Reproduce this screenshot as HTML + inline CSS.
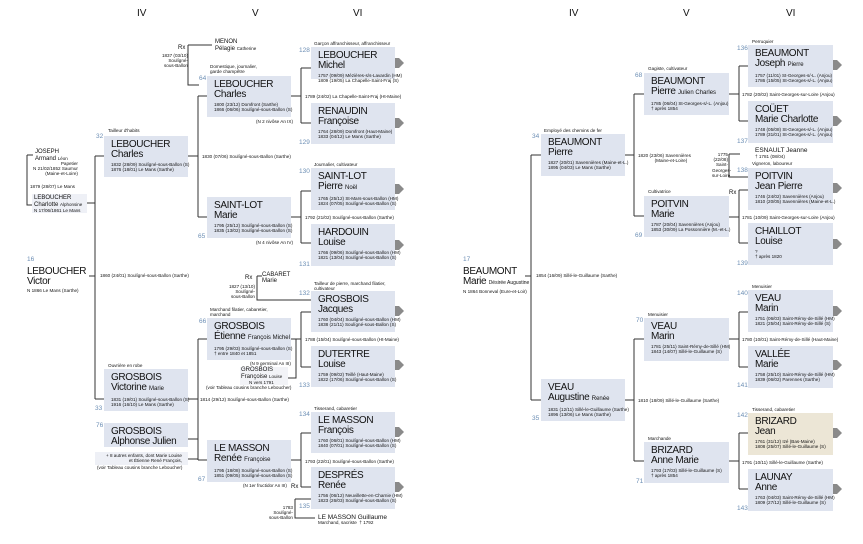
<!DOCTYPE html>
<html><head><meta charset="utf-8">
<style>
body{margin:0;width:863px;height:544px;background:#fff;position:relative;overflow:hidden;font-family:"Liberation Sans",sans-serif;color:#111}
.b{position:absolute;background:#dfe4ef;padding:4px 0 0 7px;box-sizing:border-box}
.n{font-size:10px;line-height:9.5px;white-space:nowrap;letter-spacing:-0.35px}
.n small{font-size:6px;letter-spacing:0}
.d{font-size:4.6px;line-height:5.2px;margin-top:3px;white-space:nowrap}
.t{position:absolute;font-size:4.6px;line-height:5.2px;white-space:nowrap}
.num{position:absolute;font-size:6.5px;color:#6d8fb5}
.h{position:absolute;font-size:10px;top:8px}
.s{position:absolute;font-size:10px;line-height:10px;white-space:nowrap;letter-spacing:-0.35px}
svg{position:absolute;left:0;top:0}
</style></head><body>
<svg width="863" height="544" fill="none" stroke="#333" stroke-width="1">
<path d="M27 155V205H33M27 155H33M86 203H95M89 276H95M95 156V399M95 156H104M95 399H104M188 156H198M198 96V217M198 96H207M198 217H207M188 399H198M198 339V460M198 339H207M198 460H207M188 439H198M188 459H198M291 96H301M301 68V123M301 68H311M301 123H311M291 217H301M301 191V243M301 191H311M301 243H311M291 339H301M301 312V367M301 312H311M301 367H311M288 378H296V339M291 460H301M301 433V487M301 433H311M301 487H311M188 45V85H199M188 45H212M257 276V300H311M257 276H262M295 499V518H315M295 499H311"/>
<path d="M531 155V400M531 155H541M531 400H541M525 276H531M625 155H634M634 94V216M634 94H644M634 216H644M625 400H634M634 339V461M634 339H644M634 461H644M729 94H739M739 66V121M739 66H748M739 121H748M729 217H739M739 190V243M739 190H748M739 243H748M729 154V177H748M729 154H740M729 339H739M739 312V367M739 312H748M739 367H748M729 461H739M739 433V489M739 433H748M739 489H748"/>
<g fill="#8a8a8a" stroke="none">
<polygon points="395,58 399,58 404,63 399,68 395,68"/><polygon points="395,118 399,118 404,123 399,128 395,128"/><polygon points="395,184 399,184 404,189 399,194 395,194"/><polygon points="395,240 399,240 404,245 399,250 395,250"/><polygon points="395,306 399,306 404,311 399,316 395,316"/><polygon points="395,360 399,360 404,365 399,370 395,370"/><polygon points="395,427 399,427 404,432 399,437 395,437"/><polygon points="395,482 399,482 404,487 399,492 395,492"/>
<polygon points="833,60 837,60 842,65 837,70 833,70"/><polygon points="833,116 837,116 842,121 837,126 833,126"/><polygon points="833,183 837,183 842,188 837,193 833,193"/><polygon points="833,239 837,239 842,244 837,249 833,249"/><polygon points="833,306 837,306 842,311 837,316 833,316"/><polygon points="833,360 837,360 842,365 837,370 833,370"/><polygon points="833,428 837,428 842,433 837,438 833,438"/><polygon points="833,484 837,484 842,489 837,494 833,494"/>
</g></svg>

<div class="h" style="left:137px">IV</div><div class="h" style="left:252px">V</div><div class="h" style="left:353px">VI</div>
<div class="h" style="left:569px">IV</div><div class="h" style="left:683px">V</div><div class="h" style="left:786px">VI</div>

<!-- LEFT -->
<div class="s" style="left:35px;top:150px;font-size:6px;line-height:5.5px;letter-spacing:0">JOSEPH<br>Armand <span style="font-size:4.5px">Léon</span></div>
<div class="t" style="left:33px;top:161px;text-align:right">Papetier<br>N 21/02/1852 Saumur<br>(Maine-et-Loire)</div>
<div class="t" style="left:30px;top:184px">1879 (28/07) Le Mans</div>
<div class="b" style="left:32px;top:194px;width:55px;height:19px;padding:2px 0 0 2px;background:#eef0f6"><div style="font-size:6px;line-height:5.5px;white-space:nowrap">LEBOUCHER<br>Charlotte <span style="font-size:4.5px">Alphonsine</span></div><div class="t" style="position:static">N 17/06/1861 Le Mans</div></div>
<div class="num" style="left:27px;top:256px">16</div>
<div class="s" style="left:27px;top:267px">LEBOUCHER<br>Victor</div>
<div class="t" style="left:27px;top:288px">N 1866 Le Mans (Sarthe)</div>
<div class="t" style="left:100px;top:273px">1860 (24/01) Soulígné-sous-Ballon (Sarthe)</div>

<div class="t" style="left:108px;top:128px">Tailleur d'habits</div><div class="num" style="left:96px;top:133px">32</div>
<div class="b" style="left:104px;top:136px;width:84px;height:41px"><div class="n">LEBOUCHER<br>Charles</div><div class="d">1832 (28/09) Soulígné-sous-Ballon (S)<br>1876 (18/01) Le Mans (Sarthe)</div></div>
<div class="t" style="left:202px;top:154px">1830 (07/06) Soulígné-sous-Ballon (Sarthe)</div>

<div class="t" style="left:108px;top:363px">Ouvrière en robe</div>
<div class="b" style="left:104px;top:369px;width:84px;height:42px"><div class="n">GROSBOIS<br>Victorine <small>Marie</small></div><div class="d">1831 (19/01) Soulígné-sous-Ballon (S)<br>1916 (16/10) Le Mans (Sarthe)</div></div><div class="num" style="left:95px;top:405px">33</div>
<div class="num" style="left:96px;top:422px">76</div>
<div class="b" style="left:104px;top:423px;width:84px;height:24px"><div class="n">GROSBOIS<br>Alphonse Julien</div></div>
<div class="b" style="left:95px;top:452px;width:93px;height:13px;padding:1px 0 0 2px;background:#eef0f6"><div class="t" style="position:static;text-align:right;width:85px">+ 8 autres enfants, dont Marie Louise<br>et Étienne René François,</div></div>
<div class="t" style="left:97px;top:465px">(voir Tableau cousins branche Leboucher)</div>
<div class="t" style="left:200px;top:397px">1814 (29/12) Soulígné-sous-Ballon (Sarthe)</div>

<div class="s" style="left:178px;top:43px;font-size:6px;letter-spacing:0">Rx</div>
<div class="t" style="left:160px;top:53px;text-align:right;width:28px">1837 (03/10)<br>Soulígné-<br>sous-Ballon</div>
<div class="s" style="left:215px;top:40px;font-size:6px;line-height:5.5px;letter-spacing:0">MENON<br>Pélagie <span style="font-size:4.5px">Catherine</span></div>
<div class="t" style="left:210px;top:64px">Domestique, journalier,<br>garde champêtre</div><div class="num" style="left:199px;top:75px">64</div>
<div class="b" style="left:207px;top:76px;width:84px;height:41px"><div class="n">LEBOUCHER<br>Charles</div><div class="d">1800 (23/12) Domfront (Sarthe)<br>1866 (06/06) Soulígné-sous-Ballon (S)</div></div>
<div class="t" style="left:256px;top:119px">(N 2 nivôse An IX)</div>
<div class="b" style="left:207px;top:197px;width:84px;height:41px"><div class="n">SAINT-LOT<br>Marie</div><div class="d">1795 (25/12) Soulígné-sous-Ballon (S)<br>1835 (13/02) Soulígné-sous-Ballon (S)</div></div><div class="num" style="left:198px;top:233px">65</div>
<div class="t" style="left:256px;top:240px">(N 4 nivôse An IV)</div>

<div class="s" style="left:245px;top:273px;font-size:6px;letter-spacing:0">Rx</div>
<div class="s" style="left:262px;top:273px;font-size:6px;line-height:5.5px;letter-spacing:0">CABARET<br>Marie</div>
<div class="t" style="left:228px;top:284px;text-align:right;width:27px">1827 (13/10)<br>Soulígné-<br>sous-Ballon</div>
<div class="t" style="left:210px;top:307px">Marchand filatier, cabaretier,<br>marchand</div><div class="num" style="left:199px;top:318px">66</div>
<div class="b" style="left:207px;top:318px;width:84px;height:42px"><div class="n">GROSBOIS<br>Étienne <small>François Michel</small></div><div class="d">1795 (29/03) Soulígné-sous-Ballon (S)<br>† entre 1840 et 1851</div></div>
<div class="t" style="left:250px;top:361px">(N 9 germinal An III)</div>
<div class="b" style="left:240px;top:367px;width:48px;height:18px;padding:1px 0 0 1px;background:#f2f3f7"><div style="font-size:6px;line-height:5.5px;white-space:nowrap">GROSBOIS<br>Françoise <span style="font-size:4.5px">Louise</span></div><div class="t" style="position:static;padding-left:8px">N vers 1791</div></div>
<div class="t" style="left:206px;top:385px">(voir Tableau cousins branche Leboucher)</div>
<div class="b" style="left:207px;top:440px;width:84px;height:42px"><div class="n">LE MASSON<br>Renée <small>Françoise</small></div><div class="d">1795 (18/08) Soulígné-sous-Ballon (S)<br>1851 (09/05) Soulígné-sous-Ballon (S)</div></div><div class="num" style="left:198px;top:476px">67</div>
<div class="t" style="left:243px;top:483px">(N 1er fructidor An III)</div>
<div class="s" style="left:291px;top:482px;font-size:6px;letter-spacing:0">Rx</div>

<div class="t" style="left:314px;top:41px">Garçon affranchisseur, affranchisseur</div><div class="num" style="left:299px;top:47px">128</div>
<div class="b" style="left:311px;top:47px;width:84px;height:32px"><div class="n">LEBOUCHER<br>Michel</div><div class="d">1757 (09/09) Mézières-s/s-Lavardin (HM)<br>1809 (19/05) La Chapelle-Saint-Fraj (S)</div></div>
<div class="t" style="left:305px;top:94px">1789 (24/02) La Chapelle-Saint-Fraj (Ht-Maine)</div>
<div class="b" style="left:311px;top:103px;width:84px;height:41px"><div class="n">RENAUDIN<br>Françoise</div><div class="d">1764 (28/09) Domfront (Haut-Maine)<br>1833 (04/12) Le Mans (Sarthe)</div></div><div class="num" style="left:299px;top:139px">129</div>
<div class="t" style="left:314px;top:162px">Journalier, cultivateur</div><div class="num" style="left:299px;top:168px">130</div>
<div class="b" style="left:311px;top:168px;width:84px;height:42px"><div class="n">SAINT-LOT<br>Pierre <small>Noël</small></div><div class="d">1765 (25/12) St-Mars-sous-Ballon (HM)<br>1824 (07/05) Soulígné-sous-Ballon (S)</div></div>
<div class="t" style="left:305px;top:215px">1792 (21/02) Soulígné-sous-Ballon (Sarthe)</div>
<div class="b" style="left:311px;top:224px;width:84px;height:42px"><div class="n">HARDOUIN<br>Louise</div><div class="d">1766 (09/06) Soulígné-sous-Ballon (HM)<br>1821 (13/04) Soulígné-sous-Ballon (S)</div></div><div class="num" style="left:299px;top:261px">131</div>
<div class="t" style="left:314px;top:281px">Tailleur de pierre, marchand filatier,<br>cultivateur</div><div class="num" style="left:299px;top:290px">132</div>
<div class="b" style="left:311px;top:291px;width:84px;height:41px"><div class="n">GROSBOIS<br>Jacques</div><div class="d">1760 (04/04) Soulígné-sous-Ballon (HM)<br>1838 (21/11) Soulígné-sous-Ballon (S)</div></div>
<div class="t" style="left:305px;top:337px">1788 (15/04) Soulígné-sous-Ballon (Ht-Maine)</div>
<div class="b" style="left:311px;top:346px;width:84px;height:41px"><div class="n">DUTERTRE<br>Louise</div><div class="d">1759 (09/02) Teillé (Haut-Maine)<br>1822 (17/06) Soulígné-sous-Ballon (S)</div></div><div class="num" style="left:299px;top:382px">133</div>
<div class="t" style="left:314px;top:406px">Tisserand, cabaretier</div><div class="num" style="left:299px;top:411px">134</div>
<div class="b" style="left:311px;top:412px;width:84px;height:41px"><div class="n">LE MASSON<br>François</div><div class="d">1760 (06/01) Soulígné-sous-Ballon (HM)<br>1840 (07/01) Soulígné-sous-Ballon (S)</div></div>
<div class="t" style="left:305px;top:459px">1793 (22/01) Soulígné-sous-Ballon (Sarthe)</div>
<div class="b" style="left:311px;top:467px;width:84px;height:42px"><div class="n">DESPRÉS<br>Renée</div><div class="d">1756 (06/12) Neuvillette-en-Charnie (HM)<br>1823 (26/03) Soulígné-sous-Ballon (S)</div></div><div class="num" style="left:299px;top:503px">135</div>
<div class="t" style="left:268px;top:505px;text-align:right;width:25px">1783<br>Soulígné-<br>sous-Ballon</div>
<div class="s" style="left:318px;top:513px;font-size:6.5px;letter-spacing:0">LE MASSON Guillaume</div>
<div class="t" style="left:318px;top:520px">Marchand, sacriste &nbsp;† 1792</div>

<!-- RIGHT -->
<div class="num" style="left:463px;top:256px">17</div>
<div class="s" style="left:463px;top:267px">BEAUMONT<br>Marie <span style="font-size:5px;letter-spacing:0">Désirée Augustine</span></div>
<div class="t" style="left:463px;top:289px">N 1864 Bonneval (Eure-et-Loir)</div>
<div class="t" style="left:536px;top:273px">1854 (16/09) Sillé-le-Guillaume (Sarthe)</div>
<div class="t" style="left:544px;top:128px">Employé des chemins de fer</div><div class="num" style="left:532px;top:133px">34</div>
<div class="b" style="left:541px;top:134px;width:84px;height:42px"><div class="n">BEAUMONT<br>Pierre</div><div class="d">1827 (20/01) Savennières (Maine-et-L.)<br>1895 (04/03) Le Mans (Sarthe)</div></div>
<div class="t" style="left:638px;top:153px">1820 (23/06) Savennières<br>&nbsp;&nbsp;&nbsp;&nbsp;&nbsp;&nbsp;&nbsp;&nbsp;&nbsp;&nbsp;&nbsp;&nbsp;&nbsp;(Maine-et-Loire)</div>
<div class="b" style="left:541px;top:379px;width:84px;height:42px"><div class="n">VEAU<br>Augustine <small>Renée</small></div><div class="d">1831 (12/11) Sillé-le-Guillaume (Sarthe)<br>1896 (13/06) Le Mans (Sarthe)</div></div><div class="num" style="left:532px;top:415px">35</div>
<div class="t" style="left:638px;top:398px">1810 (18/09) Sillé-le-Guillaume (Sarthe)</div>

<div class="t" style="left:648px;top:66px">Gagiste, cultivateur</div><div class="num" style="left:635px;top:72px">68</div>
<div class="b" style="left:644px;top:73px;width:85px;height:42px"><div class="n">BEAUMONT<br>Pierre <small>Julien Charles</small></div><div class="d">1785 (06/04) St-Georges-s/-L. (Anjou)<br>† après 1854</div></div>
<div class="t" style="left:648px;top:189px">Cultivatrice</div>
<div class="b" style="left:644px;top:196px;width:85px;height:41px"><div class="n">POITVIN<br>Marie</div><div class="d">1787 (20/04) Savennières (Anjou)<br>1853 (30/09) La Possonnière (M.-et-L.)</div></div><div class="num" style="left:635px;top:232px">69</div>
<div class="t" style="left:648px;top:312px">Menuisier</div><div class="num" style="left:636px;top:317px">70</div>
<div class="b" style="left:644px;top:318px;width:85px;height:43px"><div class="n">VEAU<br>Marin</div><div class="d">1781 (25/11) Saint-Rémy-de-Sillé (HM)<br>1843 (14/07) Sillé-le-Guillaume (S)</div></div>
<div class="t" style="left:648px;top:436px">Marchande</div>
<div class="b" style="left:644px;top:442px;width:85px;height:41px"><div class="n">BRIZARD<br>Anne Marie</div><div class="d">1793 (17/03) Sillé-le-Guillaume (S)<br>† après 1854</div></div><div class="num" style="left:636px;top:478px">71</div>

<div class="t" style="left:752px;top:39px">Perruquier</div><div class="num" style="left:737px;top:45px">136</div>
<div class="b" style="left:748px;top:45px;width:85px;height:42px"><div class="n">BEAUMONT<br>Joseph <small>Pierre</small></div><div class="d">1757 (11/01) St-Georges-s/-L. (Anjou)<br>1786 (15/05) St-Georges-s/-L. (Anjou)</div></div>
<div class="t" style="left:742px;top:92px">1782 (20/02) Saint-Georges-sur-Loire (Anjou)</div>
<div class="b" style="left:748px;top:101px;width:85px;height:42px"><div class="n">COÜET<br>Marie Charlotte</div><div class="d">1748 (05/08) St-Georges-s/-L. (Anjou)<br>1789 (31/01) St-Georges-s/-L. (Anjou)</div></div><div class="num" style="left:737px;top:138px">137</div>
<div class="s" style="left:755px;top:148px;font-size:6.5px;line-height:5.5px;letter-spacing:0">ESNAULT Jeanne</div>
<div class="t" style="left:755px;top:154px">† 1781 (08/04)</div>
<div class="t" style="left:712px;top:152px;text-align:right;width:16px">1775<br>(22/08)<br>Saint-<br>Georges-<br>sur-Loire</div>
<div class="t" style="left:752px;top:161px">Vigneron, laboureur</div><div class="num" style="left:737px;top:167px">138</div>
<div class="s" style="left:729px;top:188px;font-size:6px;letter-spacing:0">Rx</div>
<div class="b" style="left:748px;top:168px;width:85px;height:42px"><div class="n">POITVIN<br>Jean Pierre</div><div class="d">1746 (24/02) Savennières (Anjou)<br>1810 (20/05) Savennières (Maine-et-L.)</div></div>
<div class="t" style="left:742px;top:215px">1781 (10/09) Saint-Georges-sur-Loire (Anjou)</div>
<div class="b" style="left:748px;top:223px;width:85px;height:42px"><div class="n">CHAILLOT<br>Louise</div><div class="d">?<br>† après 1820</div></div><div class="num" style="left:737px;top:260px">139</div>
<div class="t" style="left:752px;top:284px">Menuisier</div><div class="num" style="left:737px;top:290px">140</div>
<div class="b" style="left:748px;top:290px;width:85px;height:42px"><div class="n">VEAU<br>Marin</div><div class="d">1751 (06/03) Saint-Rémy-de-Sillé (HM)<br>1821 (25/04) Saint-Rémy-de-Sillé (S)</div></div>
<div class="t" style="left:742px;top:337px">1780 (10/01) Saint-Rémy-de-Sillé (Haut-Maine)</div>
<div class="b" style="left:748px;top:346px;width:85px;height:42px"><div class="n">VALLÉE<br>Marie</div><div class="d">1758 (25/10) Saint-Rémy-de-Sillé (HM)<br>1839 (06/02) Parennes (Sarthe)</div></div><div class="num" style="left:737px;top:382px">141</div>
<div class="t" style="left:752px;top:407px">Tisserand, cabaretier</div><div class="num" style="left:737px;top:412px">142</div>
<div class="b" style="left:748px;top:413px;width:85px;height:42px;background:#ece6d6"><div class="n">BRIZARD<br>Jean</div><div class="d">1761 (31/12) Izé (Bas-Maine)<br>1808 (25/07) Sillé-le-Guillaume (S)</div></div>
<div class="t" style="left:742px;top:460px">1791 (10/11) Sillé-le-Guillaume (Sarthe)</div>
<div class="b" style="left:748px;top:469px;width:85px;height:42px"><div class="n">LAUNAY<br>Anne</div><div class="d">1763 (04/03) Saint-Rémy-de-Sillé (HM)<br>1809 (27/12) Sillé-le-Guillaume (S)</div></div><div class="num" style="left:737px;top:505px">143</div>
</body></html>
